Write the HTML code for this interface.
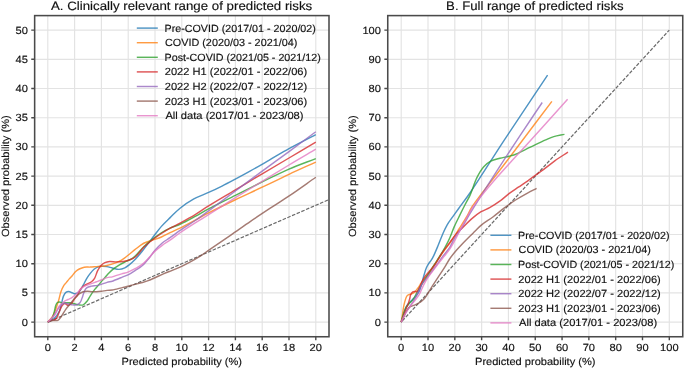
<!DOCTYPE html>
<html><head><meta charset="utf-8"><style>
html,body{margin:0;padding:0;background:#fff;}
body{width:685px;height:369px;overflow:hidden;}
svg{display:block;font-family:"Liberation Sans",sans-serif;text-rendering:geometricPrecision;will-change:transform;}
</style></head><body>
<svg width="685" height="369" viewBox="0 0 685 369">
<rect width="685" height="369" fill="#fff"/>
<clipPath id="c34"><rect x="34.65" y="15.6" width="294.35" height="321.15"/></clipPath>
<path d="M47.80 15.6V336.75M74.60 15.6V336.75M101.40 15.6V336.75M128.20 15.6V336.75M155.00 15.6V336.75M181.80 15.6V336.75M208.60 15.6V336.75M235.40 15.6V336.75M262.20 15.6V336.75M289.00 15.6V336.75M315.80 15.6V336.75M34.65 322.10H329.0M34.65 292.90H329.0M34.65 263.70H329.0M34.65 234.50H329.0M34.65 205.30H329.0M34.65 176.10H329.0M34.65 146.90H329.0M34.65 117.70H329.0M34.65 88.50H329.0M34.65 59.30H329.0M34.65 30.10H329.0" stroke="#e3e3e3" stroke-width="1.15" fill="none"/>
<g clip-path="url(#c34)" fill="none" stroke-width="1.45" stroke-linejoin="round" stroke-linecap="butt">
<path d="M47.80 322.10L1387.80 -261.90" stroke="#6a6a6a" stroke-width="1.2" stroke-dasharray="3.56 1.53" stroke-dashoffset="-1.7"/>
<path d="M47.80 322.10 C49.81 321.03 52.03 320.46 53.83 318.89 C55.94 317.05 58.08 313.79 59.32 311.30 C60.35 309.23 60.57 307.42 61.20 305.16 C61.96 302.45 62.48 298.42 63.48 296.11 C64.17 294.51 64.89 293.08 65.89 292.32 C66.70 291.70 67.71 291.41 68.70 291.44 C69.87 291.48 71.31 292.48 72.46 292.90 C73.42 293.26 74.16 293.91 75.14 293.83 C76.39 293.74 78.07 292.76 79.29 291.62 C80.79 290.20 81.84 287.61 83.04 285.48 C84.30 283.27 85.39 280.70 86.66 278.59 C87.81 276.68 89.00 274.94 90.28 273.34 C91.47 271.84 92.71 270.32 94.03 269.25 C95.18 268.31 96.39 267.57 97.65 267.09 C98.85 266.62 100.02 266.43 101.40 266.33 C103.05 266.21 105.09 266.35 106.89 266.62 C108.71 266.89 110.35 267.53 112.25 267.96 C114.39 268.45 116.92 269.44 119.09 269.36 C121.10 269.30 123.15 268.55 124.85 267.79 C126.37 267.10 127.41 266.29 128.87 265.16 C130.88 263.60 133.43 261.25 135.57 259.03 C137.81 256.70 139.83 254.11 142.00 251.44 C144.34 248.56 146.91 245.18 149.10 242.33 C151.03 239.81 152.54 237.69 154.46 235.20 C156.62 232.41 158.89 229.25 161.43 226.38 C164.10 223.38 167.12 220.57 170.14 217.62 C173.32 214.52 176.34 211.20 180.06 208.22 C184.16 204.92 189.06 201.52 193.86 198.88 C198.58 196.28 203.82 194.64 208.60 192.45 C213.19 190.35 217.55 188.26 222.00 186.03 C226.49 183.78 230.85 181.44 235.40 179.02 C240.17 176.48 244.84 174.00 250.01 171.14 C255.92 167.85 262.51 164.01 268.90 160.33 C275.50 156.53 281.77 152.64 289.00 148.65 C297.25 144.10 306.87 139.31 315.80 134.64" stroke="#1f77b4" stroke-opacity="0.78"/>
<path d="M47.80 322.10 C49.36 320.15 51.14 318.46 52.49 316.26 C53.95 313.87 55.06 310.94 56.11 308.20 C57.15 305.48 57.98 302.67 58.79 299.91 C59.58 297.18 60.04 294.23 60.93 291.73 C61.73 289.50 62.70 287.26 63.75 285.60 C64.57 284.29 65.53 283.49 66.43 282.39 C67.36 281.25 68.27 280.01 69.24 278.88 C70.19 277.77 71.18 276.82 72.19 275.67 C73.31 274.39 74.42 272.67 75.67 271.53 C76.80 270.49 77.94 269.72 79.29 269.01 C80.77 268.25 82.49 267.53 84.25 267.20 C86.13 266.85 88.26 267.18 90.28 267.09 C92.32 266.99 94.50 266.76 96.44 266.62 C98.18 266.49 99.70 266.45 101.40 266.27 C103.22 266.07 105.32 265.80 107.03 265.45 C108.49 265.16 109.49 264.90 111.05 264.40 C113.28 263.69 116.73 262.52 119.09 261.36 C121.11 260.38 122.69 259.32 124.45 258.09 C126.31 256.80 128.17 255.20 129.94 253.77 C131.65 252.40 132.98 251.17 134.90 249.68 C137.40 247.75 140.68 244.88 143.74 243.26 C146.59 241.76 149.64 241.15 152.59 240.11 C155.53 239.07 158.53 238.24 161.43 237.01 C164.39 235.76 167.13 234.08 170.14 232.63 C173.33 231.10 176.43 229.85 180.06 228.08 C184.60 225.85 190.32 222.79 195.20 220.19 C199.82 217.73 203.33 215.62 208.60 212.89 C215.97 209.08 226.45 204.04 235.40 199.75 C244.31 195.48 253.28 191.43 262.20 187.20 C271.14 182.96 280.05 178.54 289.00 174.35 C297.91 170.17 306.87 166.17 315.80 162.08" stroke="#ff7f0e" stroke-opacity="0.78"/>
<path d="M47.80 322.10 C48.69 321.52 49.69 321.09 50.48 320.35 C51.32 319.56 52.02 318.66 52.62 317.43 C53.45 315.76 53.95 313.10 54.50 311.00 C55.02 309.02 55.22 306.69 55.84 305.16 C56.29 304.07 56.75 303.06 57.45 302.54 C58.04 302.09 58.83 301.91 59.59 301.95 C60.50 302.00 61.52 302.97 62.54 303.12 C63.57 303.27 64.60 302.88 65.76 302.83 C67.11 302.77 68.72 302.66 70.18 302.83 C71.63 302.99 73.04 303.48 74.47 303.82 C75.90 304.16 77.30 304.70 78.75 304.87 C80.21 305.05 81.82 305.43 83.18 304.87 C84.76 304.22 86.26 302.15 87.46 300.61 C88.61 299.13 89.18 297.53 90.28 295.82 C91.61 293.75 93.43 291.08 94.97 289.10 C96.28 287.42 97.61 286.06 98.85 284.61 C100.02 283.25 101.08 281.94 102.20 280.64 C103.31 279.35 104.44 278.11 105.55 276.84 C106.67 275.57 107.76 274.23 108.90 273.04 C110.00 271.90 110.89 270.94 112.25 269.83 C114.08 268.35 116.77 266.57 119.09 265.16 C121.33 263.80 123.63 262.66 125.92 261.48 C128.19 260.31 130.93 259.34 132.76 258.09 C134.19 257.11 134.89 256.28 136.24 254.94 C138.31 252.89 141.06 249.36 143.74 246.76 C146.50 244.10 149.59 241.54 152.59 239.17 C155.49 236.88 158.43 234.63 161.43 232.75 C164.29 230.96 167.10 229.47 170.14 228.08 C173.30 226.63 176.45 225.90 180.06 224.28 C184.63 222.22 190.33 219.04 195.20 216.40 C199.83 213.88 203.32 211.62 208.60 208.80 C215.96 204.88 226.47 199.85 235.40 195.37 C244.33 190.89 253.25 186.33 262.20 181.94 C271.11 177.57 279.99 173.01 289.00 169.09 C297.86 165.24 306.87 162.08 315.80 158.58" stroke="#2ca02c" stroke-opacity="0.78"/>
<path d="M47.80 322.10 C48.92 321.52 50.00 320.74 51.15 320.35 C52.24 319.98 53.55 320.20 54.50 319.76 C55.35 319.37 55.99 318.87 56.64 318.01 C57.63 316.70 58.33 314.14 59.19 312.17 C60.07 310.15 60.76 307.57 61.87 306.04 C62.72 304.86 63.78 303.50 64.82 303.41 C65.84 303.32 66.95 305.34 68.03 305.40 C69.09 305.45 70.28 304.67 71.25 303.82 C72.49 302.74 73.37 300.46 74.47 298.97 C75.47 297.62 76.61 296.70 77.55 295.24 C78.66 293.50 79.28 290.79 80.50 289.10 C81.56 287.63 82.93 286.41 84.25 285.48 C85.41 284.66 86.66 284.28 87.87 283.67 C89.07 283.06 90.40 282.65 91.48 281.80 C92.65 280.90 93.65 279.79 94.57 278.30 C95.78 276.33 96.45 272.97 97.65 270.71 C98.72 268.70 99.93 266.74 101.27 265.34 C102.38 264.17 103.53 263.29 104.88 262.65 C106.29 261.99 107.85 261.64 109.57 261.48 C111.63 261.29 114.13 261.89 116.41 261.89 C118.69 261.89 120.99 261.83 123.24 261.48 C125.50 261.13 127.85 260.61 129.94 259.79 C131.95 258.99 133.66 258.23 135.57 256.69 C138.23 254.55 140.86 250.21 143.74 247.35 C146.54 244.58 149.58 242.10 152.59 239.76 C155.48 237.50 158.46 235.46 161.43 233.51 C164.31 231.61 167.11 229.89 170.14 228.19 C173.31 226.42 176.42 225.06 180.06 223.11 C184.59 220.68 190.36 217.58 195.20 214.64 C199.85 211.83 203.33 209.18 208.60 205.88 C215.96 201.27 226.47 195.18 235.40 189.82 C244.33 184.47 253.26 179.07 262.20 173.76 C271.12 168.47 280.07 163.25 289.00 158.00 C297.93 152.74 306.87 147.48 315.80 142.23" stroke="#d62728" stroke-opacity="0.78"/>
<path d="M47.80 322.10 C48.92 321.13 50.07 320.39 51.15 319.18 C52.49 317.68 53.72 315.52 55.04 313.57 C56.44 311.50 57.75 308.88 59.32 307.09 C60.69 305.54 62.17 303.77 63.75 303.30 C65.10 302.89 66.61 303.56 68.03 303.82 C69.47 304.08 70.87 304.70 72.32 304.87 C73.77 305.05 75.44 305.25 76.74 304.87 C77.96 304.52 79.06 303.89 79.96 302.83 C81.17 301.39 81.89 298.40 82.64 296.40 C83.28 294.70 83.55 293.07 84.25 291.62 C84.91 290.25 85.52 288.78 86.66 287.88 C87.88 286.90 89.84 286.51 91.48 286.13 C93.10 285.75 94.81 285.88 96.44 285.60 C98.07 285.32 99.60 284.93 101.27 284.43 C103.12 283.88 105.14 282.93 107.03 282.39 C108.80 281.88 110.80 281.70 112.25 281.22 C113.36 280.86 113.93 280.47 115.07 279.99 C116.82 279.26 119.52 278.20 121.77 277.31 C124.03 276.41 126.38 275.73 128.60 274.62 C130.90 273.47 133.07 271.92 135.30 270.47 C137.59 268.99 139.97 267.68 142.14 265.80 C144.51 263.74 146.71 261.01 148.84 258.44 C151.00 255.84 152.77 252.85 155.00 250.27 C157.24 247.69 159.67 245.09 162.24 242.97 C164.69 240.94 167.27 239.63 170.01 237.71 C173.16 235.50 176.33 232.98 180.06 230.41 C184.56 227.31 190.34 223.82 195.20 220.48 C199.84 217.30 203.38 214.66 208.60 210.85 C216.02 205.43 226.47 197.61 235.40 190.99 C244.33 184.37 253.26 177.71 262.20 171.14 C271.12 164.57 280.08 158.13 289.00 151.57 C297.94 144.99 306.87 138.33 315.80 131.72" stroke="#9467bd" stroke-opacity="0.78"/>
<path d="M47.80 322.10 C49.59 321.61 51.42 320.93 53.16 320.64 C54.76 320.37 56.50 321.01 57.85 320.35 C59.30 319.64 60.28 317.86 61.47 316.26 C62.92 314.30 64.25 311.45 65.76 309.31 C67.16 307.33 68.72 305.65 70.18 303.82 C71.62 302.01 72.99 300.05 74.47 298.39 C75.85 296.84 77.23 295.26 78.75 294.13 C80.15 293.09 81.67 292.20 83.18 291.73 C84.57 291.30 86.02 291.27 87.46 291.26 C88.93 291.26 90.40 291.65 91.89 291.73 C93.39 291.81 94.90 291.80 96.44 291.73 C98.03 291.66 99.59 291.53 101.27 291.32 C103.11 291.10 105.15 290.61 107.03 290.39 C108.81 290.18 110.79 290.19 112.25 289.98 C113.34 289.83 113.89 289.66 115.07 289.40 C117.06 288.94 120.75 287.97 123.11 287.41 C124.96 286.98 126.43 286.72 128.07 286.30 C129.69 285.88 131.27 285.34 132.89 284.90 C134.53 284.46 136.22 284.08 137.85 283.67 C139.43 283.28 140.96 282.95 142.54 282.50 C144.18 282.04 145.69 281.60 147.50 280.93 C149.76 280.09 152.39 278.87 155.00 277.72 C157.87 276.45 160.98 274.89 163.98 273.63 C166.92 272.39 169.89 271.39 172.82 270.18 C175.78 268.96 178.75 267.70 181.67 266.33 C184.60 264.95 187.48 263.52 190.38 261.95 C193.37 260.32 196.28 258.65 199.35 256.69 C202.78 254.51 205.81 252.23 209.94 249.39 C215.73 245.41 223.99 239.82 230.84 235.08 C237.52 230.48 243.95 225.85 250.54 221.36 C257.09 216.90 263.66 212.56 270.24 208.22 C276.79 203.90 282.97 200.08 289.94 195.37 C298.01 189.91 307.18 183.30 315.80 177.27" stroke="#8c564b" stroke-opacity="0.78"/>
<path d="M47.80 322.10 C49.14 320.74 50.56 319.31 51.82 318.01 C52.95 316.85 54.00 316.16 55.04 314.68 C56.54 312.55 57.66 308.26 59.32 305.98 C60.65 304.17 62.20 302.83 63.75 301.72 C65.12 300.73 66.60 300.24 68.03 299.50 C69.46 298.76 70.92 298.21 72.32 297.28 C73.88 296.25 75.38 294.93 76.88 293.48 C78.56 291.86 80.07 289.34 81.84 287.94 C83.36 286.73 85.02 286.03 86.66 285.31 C88.24 284.62 89.87 284.25 91.48 283.67 C93.13 283.08 94.80 282.42 96.44 281.80 C98.06 281.20 99.59 280.66 101.27 279.99 C103.11 279.27 105.12 278.12 107.03 277.60 C108.78 277.12 110.79 277.19 112.25 276.84 C113.35 276.58 113.93 276.26 115.07 275.91 C116.82 275.35 119.52 274.59 121.77 273.92 C124.04 273.25 126.37 272.76 128.60 271.88 C130.89 270.96 133.08 269.71 135.30 268.49 C137.59 267.23 139.96 266.07 142.14 264.40 C144.49 262.59 146.68 260.08 148.84 257.86 C150.96 255.66 152.78 253.23 155.00 251.14 C157.24 249.04 159.74 247.14 162.24 245.30 C164.74 243.46 167.27 242.02 170.01 240.11 C173.17 237.90 176.33 235.33 180.06 232.75 C184.55 229.63 190.28 225.93 195.20 222.82 C199.78 219.92 203.38 217.88 208.60 214.64 C216.02 210.04 226.44 203.27 235.40 197.71 C244.31 192.17 253.27 186.81 262.20 181.36 C271.13 175.91 280.05 170.37 289.00 165.00 C297.91 159.66 306.87 154.49 315.80 149.24" stroke="#e377c2" stroke-opacity="0.78"/>
</g>
<rect x="34.65" y="15.6" width="294.35" height="321.15" fill="none" stroke="#4a4a4a" stroke-width="1.55"/>
<path d="M47.80 336.75v3.4M74.60 336.75v3.4M101.40 336.75v3.4M128.20 336.75v3.4M155.00 336.75v3.4M181.80 336.75v3.4M208.60 336.75v3.4M235.40 336.75v3.4M262.20 336.75v3.4M289.00 336.75v3.4M315.80 336.75v3.4M34.65 322.10h-3.4M34.65 292.90h-3.4M34.65 263.70h-3.4M34.65 234.50h-3.4M34.65 205.30h-3.4M34.65 176.10h-3.4M34.65 146.90h-3.4M34.65 117.70h-3.4M34.65 88.50h-3.4M34.65 59.30h-3.4M34.65 30.10h-3.4" stroke="#4a4a4a" stroke-width="1.4" fill="none"/>
<g fill="#111" stroke="#111" stroke-width="0.15">
<text x="47.80" y="351.40" font-size="10.4" text-anchor="middle" textLength="6.18" lengthAdjust="spacingAndGlyphs">0</text>
<text x="74.60" y="351.40" font-size="10.4" text-anchor="middle" textLength="6.18" lengthAdjust="spacingAndGlyphs">2</text>
<text x="101.40" y="351.40" font-size="10.4" text-anchor="middle" textLength="6.18" lengthAdjust="spacingAndGlyphs">4</text>
<text x="128.20" y="351.40" font-size="10.4" text-anchor="middle" textLength="6.18" lengthAdjust="spacingAndGlyphs">6</text>
<text x="155.00" y="351.40" font-size="10.4" text-anchor="middle" textLength="6.18" lengthAdjust="spacingAndGlyphs">8</text>
<text x="181.80" y="351.40" font-size="10.4" text-anchor="middle" textLength="12.37" lengthAdjust="spacingAndGlyphs">10</text>
<text x="208.60" y="351.40" font-size="10.4" text-anchor="middle" textLength="12.37" lengthAdjust="spacingAndGlyphs">12</text>
<text x="235.40" y="351.40" font-size="10.4" text-anchor="middle" textLength="12.37" lengthAdjust="spacingAndGlyphs">14</text>
<text x="262.20" y="351.40" font-size="10.4" text-anchor="middle" textLength="12.37" lengthAdjust="spacingAndGlyphs">16</text>
<text x="289.00" y="351.40" font-size="10.4" text-anchor="middle" textLength="12.37" lengthAdjust="spacingAndGlyphs">18</text>
<text x="315.80" y="351.40" font-size="10.4" text-anchor="middle" textLength="12.37" lengthAdjust="spacingAndGlyphs">20</text>
<text x="27.85" y="325.65" font-size="10.4" text-anchor="end" textLength="6.18" lengthAdjust="spacingAndGlyphs">0</text>
<text x="27.85" y="296.45" font-size="10.4" text-anchor="end" textLength="6.18" lengthAdjust="spacingAndGlyphs">5</text>
<text x="27.85" y="267.25" font-size="10.4" text-anchor="end" textLength="12.37" lengthAdjust="spacingAndGlyphs">10</text>
<text x="27.85" y="238.05" font-size="10.4" text-anchor="end" textLength="12.37" lengthAdjust="spacingAndGlyphs">15</text>
<text x="27.85" y="208.85" font-size="10.4" text-anchor="end" textLength="12.37" lengthAdjust="spacingAndGlyphs">20</text>
<text x="27.85" y="179.65" font-size="10.4" text-anchor="end" textLength="12.37" lengthAdjust="spacingAndGlyphs">25</text>
<text x="27.85" y="150.45" font-size="10.4" text-anchor="end" textLength="12.37" lengthAdjust="spacingAndGlyphs">30</text>
<text x="27.85" y="121.25" font-size="10.4" text-anchor="end" textLength="12.37" lengthAdjust="spacingAndGlyphs">35</text>
<text x="27.85" y="92.05" font-size="10.4" text-anchor="end" textLength="12.37" lengthAdjust="spacingAndGlyphs">40</text>
<text x="27.85" y="62.85" font-size="10.4" text-anchor="end" textLength="12.37" lengthAdjust="spacingAndGlyphs">45</text>
<text x="27.85" y="33.65" font-size="10.4" text-anchor="end" textLength="12.37" lengthAdjust="spacingAndGlyphs">50</text>
<text x="181.82" y="364.80" font-size="10.4" text-anchor="middle" textLength="120.49" lengthAdjust="spacingAndGlyphs">Predicted probability (%)</text>
<g transform="translate(8.65 176.18) rotate(-90)"><text x="0.00" y="0.00" font-size="10.4" text-anchor="middle" textLength="121.62" lengthAdjust="spacingAndGlyphs">Observed probability (%)</text></g>
<text x="50.98" y="10.10" font-size="12.2" text-anchor="start" textLength="261.20" lengthAdjust="spacingAndGlyphs">A. Clinically relevant range of predicted risks</text>
<path d="M136.80 28.10h21" stroke="#1f77b4" stroke-opacity="0.78" stroke-width="1.45" fill="none"/>
<text x="164.53" y="31.60" font-size="10.4" text-anchor="start" textLength="151.35" lengthAdjust="spacingAndGlyphs">Pre-COVID (2017/01 - 2020/02)</text>
<path d="M136.80 42.70h21" stroke="#ff7f0e" stroke-opacity="0.78" stroke-width="1.45" fill="none"/>
<text x="164.97" y="46.20" font-size="10.4" text-anchor="start" textLength="132.39" lengthAdjust="spacingAndGlyphs">COVID (2020/03 - 2021/04)</text>
<path d="M136.80 57.30h21" stroke="#2ca02c" stroke-opacity="0.78" stroke-width="1.45" fill="none"/>
<text x="164.53" y="60.80" font-size="10.4" text-anchor="start" textLength="156.23" lengthAdjust="spacingAndGlyphs">Post-COVID (2021/05 - 2021/12)</text>
<path d="M136.80 71.90h21" stroke="#d62728" stroke-opacity="0.78" stroke-width="1.45" fill="none"/>
<text x="164.77" y="75.40" font-size="10.4" text-anchor="start" textLength="142.44" lengthAdjust="spacingAndGlyphs">2022 H1 (2022/01 - 2022/06)</text>
<path d="M136.80 86.50h21" stroke="#9467bd" stroke-opacity="0.78" stroke-width="1.45" fill="none"/>
<text x="164.77" y="90.00" font-size="10.4" text-anchor="start" textLength="142.44" lengthAdjust="spacingAndGlyphs">2022 H2 (2022/07 - 2022/12)</text>
<path d="M136.80 101.10h21" stroke="#8c564b" stroke-opacity="0.78" stroke-width="1.45" fill="none"/>
<text x="164.77" y="104.60" font-size="10.4" text-anchor="start" textLength="142.44" lengthAdjust="spacingAndGlyphs">2023 H1 (2023/01 - 2023/06)</text>
<path d="M136.80 115.70h21" stroke="#e377c2" stroke-opacity="0.78" stroke-width="1.45" fill="none"/>
<text x="165.40" y="119.20" font-size="10.4" text-anchor="start" textLength="138.15" lengthAdjust="spacingAndGlyphs">All data (2017/01 - 2023/08)</text>
</g>
<clipPath id="c387"><rect x="387.75" y="15.6" width="295.0" height="321.15"/></clipPath>
<path d="M401.20 15.6V336.75M428.01 15.6V336.75M454.82 15.6V336.75M481.63 15.6V336.75M508.44 15.6V336.75M535.25 15.6V336.75M562.06 15.6V336.75M588.87 15.6V336.75M615.68 15.6V336.75M642.49 15.6V336.75M669.30 15.6V336.75M387.75 322.10H682.75M387.75 292.90H682.75M387.75 263.70H682.75M387.75 234.50H682.75M387.75 205.30H682.75M387.75 176.10H682.75M387.75 146.90H682.75M387.75 117.70H682.75M387.75 88.50H682.75M387.75 59.30H682.75M387.75 30.10H682.75" stroke="#e3e3e3" stroke-width="1.15" fill="none"/>
<g clip-path="url(#c387)" fill="none" stroke-width="1.45" stroke-linejoin="round" stroke-linecap="butt">
<path d="M401.20 322.10L669.30 30.10" stroke="#6a6a6a" stroke-width="1.2" stroke-dasharray="3.56 1.53" stroke-dashoffset="-1.7"/>
<path d="M401.20 322.10 C401.83 319.96 402.47 317.71 403.08 315.68 C403.63 313.83 404.03 312.15 404.69 310.42 C405.36 308.65 406.14 306.60 407.10 305.16 C407.89 303.97 408.83 303.23 409.78 302.24 C410.79 301.19 411.92 300.10 413.00 299.03 C414.07 297.96 415.19 297.09 416.21 295.82 C417.41 294.34 418.68 292.55 419.59 290.56 C420.62 288.33 421.10 285.57 421.84 282.97 C422.63 280.23 423.40 277.15 424.20 274.50 C424.92 272.13 425.55 269.75 426.40 267.79 C427.12 266.13 427.96 264.73 428.81 263.41 C429.58 262.22 430.47 261.36 431.23 260.20 C432.04 258.94 432.66 257.82 433.51 256.11 C434.85 253.39 436.67 248.96 438.20 245.30 C439.76 241.57 441.17 237.50 442.76 233.92 C444.22 230.62 445.57 227.55 447.31 224.57 C449.05 221.61 451.26 218.87 453.21 216.10 C455.10 213.42 456.63 211.28 458.84 208.22 C461.94 203.92 465.44 199.52 470.10 192.74 C478.56 180.45 492.27 158.37 504.42 139.89 C517.93 119.35 533.19 96.68 547.58 75.07" stroke="#1f77b4" stroke-opacity="0.78"/>
<path d="M401.20 322.10 C401.63 319.57 402.06 317.15 402.49 314.51 C402.95 311.62 403.33 308.13 403.88 305.46 C404.33 303.28 404.85 301.30 405.41 299.62 C405.85 298.28 406.17 296.97 406.83 296.11 C407.36 295.42 408.03 295.01 408.79 294.65 C409.62 294.26 410.73 294.33 411.66 293.92 C412.67 293.48 413.68 292.84 414.61 292.02 C415.66 291.09 416.70 289.62 417.55 288.52 C418.27 287.60 418.84 286.78 419.43 285.89 C420.00 285.03 420.42 284.17 421.04 283.26 C421.74 282.23 422.46 281.33 423.45 280.05 C424.97 278.10 427.57 275.21 429.35 272.75 C431.03 270.44 432.42 268.06 433.91 265.74 C435.36 263.48 436.57 261.43 438.20 259.03 C440.15 256.15 442.63 252.79 444.90 249.68 C447.19 246.56 449.61 243.64 451.87 240.34 C454.27 236.85 456.44 233.08 458.84 229.24 C461.43 225.12 464.53 220.44 466.88 216.40 C468.92 212.91 469.46 210.79 472.25 206.47 C478.35 197.01 493.09 179.19 504.95 163.54 C519.21 144.74 536.23 122.08 551.87 101.35" stroke="#ff7f0e" stroke-opacity="0.78"/>
<path d="M401.20 322.10 C401.87 319.67 402.40 317.24 403.21 314.80 C404.05 312.27 404.93 309.31 406.19 307.21 C407.24 305.44 408.71 304.12 409.91 302.83 C410.94 301.73 411.97 301.10 412.89 299.91 C414.00 298.47 414.85 296.52 415.89 294.65 C417.07 292.55 418.32 290.11 419.59 287.94 C420.82 285.83 422.07 283.91 423.40 281.80 C424.83 279.54 426.56 276.94 427.90 274.80 C429.03 273.00 429.76 271.72 430.96 269.83 C432.59 267.26 435.16 263.44 436.86 260.78 C438.18 258.71 439.11 257.23 440.34 255.23 C441.77 252.91 443.41 250.35 444.90 247.64 C446.54 244.65 448.21 241.38 449.73 238.00 C451.35 234.40 452.61 230.41 454.28 226.62 C456.00 222.72 458.07 218.69 459.91 214.94 C461.64 211.41 463.29 208.06 465.01 204.72 C466.69 201.45 468.40 198.81 470.10 195.08 C472.32 190.22 474.28 182.86 476.80 177.85 C478.93 173.63 481.18 169.66 483.77 166.76 C485.91 164.36 488.12 162.61 490.75 161.21 C493.46 159.75 496.80 159.12 499.86 158.29 C502.88 157.47 506.24 156.94 508.98 156.24 C511.24 155.67 512.87 155.36 515.14 154.49 C518.16 153.34 521.93 151.18 525.33 149.53 C528.73 147.87 532.11 146.17 535.52 144.56 C538.90 142.96 542.49 141.27 545.71 139.89 C548.53 138.68 550.84 137.57 553.75 136.68 C557.03 135.68 560.90 135.12 564.47 134.34" stroke="#2ca02c" stroke-opacity="0.78"/>
<path d="M401.20 322.10 C401.78 320.45 402.35 318.76 402.94 317.14 C403.52 315.55 404.06 314.10 404.69 312.46 C405.39 310.62 406.33 308.28 406.99 306.62 C407.49 305.39 407.88 304.61 408.30 303.41 C408.82 301.95 409.36 300.00 409.78 298.45 C410.14 297.10 410.17 295.77 410.69 294.65 C411.18 293.60 411.96 292.39 412.73 291.88 C413.30 291.50 413.94 291.50 414.61 291.44 C415.35 291.38 416.30 291.94 417.02 291.59 C417.98 291.10 418.67 289.37 419.43 287.94 C420.39 286.13 421.15 283.49 422.11 281.51 C422.98 279.72 423.77 278.17 424.90 276.55 C426.14 274.76 427.85 273.04 429.35 271.29 C430.86 269.54 432.48 267.95 433.91 266.04 C435.44 263.99 436.75 261.61 438.20 259.32 C439.70 256.94 441.02 254.57 442.76 252.02 C444.78 249.06 447.43 245.77 449.73 242.68 C451.98 239.64 454.22 236.16 456.43 233.62 C458.23 231.55 459.69 230.40 461.79 228.37 C464.74 225.51 469.05 221.07 472.51 218.15 C475.46 215.66 478.14 213.51 481.09 211.72 C483.87 210.04 486.73 209.28 489.67 207.64 C493.04 205.76 496.86 203.31 500.13 200.92 C503.27 198.63 505.93 195.91 508.98 193.62 C512.01 191.34 515.25 189.31 518.36 187.20 C521.42 185.12 524.46 183.19 527.48 181.06 C530.54 178.91 533.52 176.58 536.59 174.35 C539.69 172.10 542.89 169.92 545.97 167.63 C549.05 165.35 551.74 163.01 555.09 160.62 C558.96 157.87 563.67 154.98 567.96 152.16" stroke="#d62728" stroke-opacity="0.78"/>
<path d="M401.20 322.10 C402.09 320.15 402.92 318.19 403.88 316.26 C404.85 314.30 405.71 312.49 406.99 310.42 C408.58 307.84 411.14 304.90 412.89 302.10 C414.55 299.44 415.85 296.89 417.29 294.07 C418.84 291.02 420.03 287.39 421.84 284.43 C423.59 281.57 426.05 278.98 427.90 276.55 C429.49 274.46 430.82 272.68 432.30 270.71 C433.81 268.69 435.25 266.77 436.86 264.58 C438.71 262.05 440.68 259.18 442.76 256.40 C444.96 253.44 447.76 250.43 449.73 247.35 C451.55 244.48 452.49 241.54 454.28 238.59 C456.27 235.32 458.87 232.38 461.25 228.66 C464.12 224.19 466.21 219.89 470.10 213.48 C477.05 202.03 490.85 180.38 499.99 166.17 C507.57 154.40 513.98 144.69 521.04 134.05 C528.06 123.47 535.16 113.03 542.22 102.52" stroke="#9467bd" stroke-opacity="0.78"/>
<path d="M401.20 322.10 C402.13 320.15 403.22 317.97 403.99 316.26 C404.58 314.95 404.94 313.79 405.49 312.76 C405.96 311.88 406.38 311.26 406.99 310.42 C407.78 309.35 408.70 307.79 409.91 306.92 C411.16 306.02 412.81 305.88 414.39 305.16 C416.27 304.32 418.67 303.26 420.40 302.10 C421.90 301.09 423.06 300.07 424.26 298.74 C425.59 297.25 426.66 295.40 427.90 293.48 C429.33 291.27 430.70 288.73 432.30 286.18 C434.10 283.31 436.17 280.24 438.20 277.13 C440.36 273.83 442.88 270.15 444.90 266.91 C446.68 264.06 447.88 261.42 449.73 258.74 C451.69 255.87 454.12 252.97 456.43 250.27 C458.68 247.63 461.05 245.13 463.40 242.68 C465.70 240.27 468.28 237.72 470.37 235.67 C472.04 234.03 473.26 232.89 474.93 231.29 C476.95 229.35 479.01 227.01 481.63 224.86 C484.82 222.25 489.15 219.75 492.89 216.98 C496.75 214.12 500.54 210.82 504.42 207.93 C508.23 205.08 512.05 202.26 515.95 199.75 C519.74 197.31 523.83 195.03 527.48 193.04 C530.67 191.29 533.55 189.92 536.59 188.36" stroke="#8c564b" stroke-opacity="0.78"/>
<path d="M401.20 322.10 C402.09 320.25 402.92 318.39 403.88 316.55 C404.85 314.69 405.72 312.99 406.99 311.00 C408.59 308.50 410.88 305.48 412.89 302.83 C414.85 300.23 417.17 298.05 418.89 295.24 C420.73 292.25 421.86 288.36 423.45 285.31 C424.88 282.57 426.37 280.08 427.90 277.72 C429.32 275.53 430.81 273.62 432.30 271.58 C433.80 269.53 435.22 267.57 436.86 265.45 C438.67 263.11 440.72 260.73 442.76 258.15 C445.00 255.31 447.53 252.39 449.73 249.10 C452.11 245.53 454.36 241.24 456.43 237.42 C458.36 233.85 459.98 230.35 461.79 226.91 C463.56 223.54 465.34 220.23 467.15 216.98 C468.92 213.81 470.29 210.99 472.51 207.64 C475.37 203.35 479.59 198.18 483.24 193.62 C486.83 189.13 489.42 186.00 494.23 180.48 C502.82 170.61 518.73 153.42 530.96 139.89 C543.19 126.37 555.39 112.83 567.61 99.30" stroke="#e377c2" stroke-opacity="0.78"/>
</g>
<rect x="387.75" y="15.6" width="295.00" height="321.15" fill="none" stroke="#4a4a4a" stroke-width="1.55"/>
<path d="M401.20 336.75v3.4M428.01 336.75v3.4M454.82 336.75v3.4M481.63 336.75v3.4M508.44 336.75v3.4M535.25 336.75v3.4M562.06 336.75v3.4M588.87 336.75v3.4M615.68 336.75v3.4M642.49 336.75v3.4M669.30 336.75v3.4M387.75 322.10h-3.4M387.75 292.90h-3.4M387.75 263.70h-3.4M387.75 234.50h-3.4M387.75 205.30h-3.4M387.75 176.10h-3.4M387.75 146.90h-3.4M387.75 117.70h-3.4M387.75 88.50h-3.4M387.75 59.30h-3.4M387.75 30.10h-3.4" stroke="#4a4a4a" stroke-width="1.4" fill="none"/>
<g fill="#111" stroke="#111" stroke-width="0.15">
<text x="401.20" y="351.40" font-size="10.4" text-anchor="middle" textLength="6.18" lengthAdjust="spacingAndGlyphs">0</text>
<text x="428.01" y="351.40" font-size="10.4" text-anchor="middle" textLength="12.37" lengthAdjust="spacingAndGlyphs">10</text>
<text x="454.82" y="351.40" font-size="10.4" text-anchor="middle" textLength="12.37" lengthAdjust="spacingAndGlyphs">20</text>
<text x="481.63" y="351.40" font-size="10.4" text-anchor="middle" textLength="12.37" lengthAdjust="spacingAndGlyphs">30</text>
<text x="508.44" y="351.40" font-size="10.4" text-anchor="middle" textLength="12.37" lengthAdjust="spacingAndGlyphs">40</text>
<text x="535.25" y="351.40" font-size="10.4" text-anchor="middle" textLength="12.37" lengthAdjust="spacingAndGlyphs">50</text>
<text x="562.06" y="351.40" font-size="10.4" text-anchor="middle" textLength="12.37" lengthAdjust="spacingAndGlyphs">60</text>
<text x="588.87" y="351.40" font-size="10.4" text-anchor="middle" textLength="12.37" lengthAdjust="spacingAndGlyphs">70</text>
<text x="615.68" y="351.40" font-size="10.4" text-anchor="middle" textLength="12.37" lengthAdjust="spacingAndGlyphs">80</text>
<text x="642.49" y="351.40" font-size="10.4" text-anchor="middle" textLength="12.37" lengthAdjust="spacingAndGlyphs">90</text>
<text x="669.30" y="351.40" font-size="10.4" text-anchor="middle" textLength="18.55" lengthAdjust="spacingAndGlyphs">100</text>
<text x="380.95" y="325.65" font-size="10.4" text-anchor="end" textLength="6.18" lengthAdjust="spacingAndGlyphs">0</text>
<text x="380.95" y="296.45" font-size="10.4" text-anchor="end" textLength="12.37" lengthAdjust="spacingAndGlyphs">10</text>
<text x="380.95" y="267.25" font-size="10.4" text-anchor="end" textLength="12.37" lengthAdjust="spacingAndGlyphs">20</text>
<text x="380.95" y="238.05" font-size="10.4" text-anchor="end" textLength="12.37" lengthAdjust="spacingAndGlyphs">30</text>
<text x="380.95" y="208.85" font-size="10.4" text-anchor="end" textLength="12.37" lengthAdjust="spacingAndGlyphs">40</text>
<text x="380.95" y="179.65" font-size="10.4" text-anchor="end" textLength="12.37" lengthAdjust="spacingAndGlyphs">50</text>
<text x="380.95" y="150.45" font-size="10.4" text-anchor="end" textLength="12.37" lengthAdjust="spacingAndGlyphs">60</text>
<text x="380.95" y="121.25" font-size="10.4" text-anchor="end" textLength="12.37" lengthAdjust="spacingAndGlyphs">70</text>
<text x="380.95" y="92.05" font-size="10.4" text-anchor="end" textLength="12.37" lengthAdjust="spacingAndGlyphs">80</text>
<text x="380.95" y="62.85" font-size="10.4" text-anchor="end" textLength="12.37" lengthAdjust="spacingAndGlyphs">90</text>
<text x="380.95" y="33.65" font-size="10.4" text-anchor="end" textLength="18.55" lengthAdjust="spacingAndGlyphs">100</text>
<text x="535.25" y="364.80" font-size="10.4" text-anchor="middle" textLength="120.49" lengthAdjust="spacingAndGlyphs">Predicted probability (%)</text>
<g transform="translate(356.40 176.18) rotate(-90)"><text x="0.00" y="0.00" font-size="10.4" text-anchor="middle" textLength="121.62" lengthAdjust="spacingAndGlyphs">Observed probability (%)</text></g>
<text x="446.13" y="10.10" font-size="12.2" text-anchor="start" textLength="177.41" lengthAdjust="spacingAndGlyphs">B. Full range of predicted risks</text>
<path d="M490.40 235.30h21" stroke="#1f77b4" stroke-opacity="0.78" stroke-width="1.45" fill="none"/>
<text x="518.13" y="238.80" font-size="10.4" text-anchor="start" textLength="151.35" lengthAdjust="spacingAndGlyphs">Pre-COVID (2017/01 - 2020/02)</text>
<path d="M490.40 249.90h21" stroke="#ff7f0e" stroke-opacity="0.78" stroke-width="1.45" fill="none"/>
<text x="518.57" y="253.40" font-size="10.4" text-anchor="start" textLength="132.39" lengthAdjust="spacingAndGlyphs">COVID (2020/03 - 2021/04)</text>
<path d="M490.40 264.50h21" stroke="#2ca02c" stroke-opacity="0.78" stroke-width="1.45" fill="none"/>
<text x="518.13" y="268.00" font-size="10.4" text-anchor="start" textLength="156.23" lengthAdjust="spacingAndGlyphs">Post-COVID (2021/05 - 2021/12)</text>
<path d="M490.40 279.10h21" stroke="#d62728" stroke-opacity="0.78" stroke-width="1.45" fill="none"/>
<text x="518.37" y="282.60" font-size="10.4" text-anchor="start" textLength="142.44" lengthAdjust="spacingAndGlyphs">2022 H1 (2022/01 - 2022/06)</text>
<path d="M490.40 293.70h21" stroke="#9467bd" stroke-opacity="0.78" stroke-width="1.45" fill="none"/>
<text x="518.37" y="297.20" font-size="10.4" text-anchor="start" textLength="142.44" lengthAdjust="spacingAndGlyphs">2022 H2 (2022/07 - 2022/12)</text>
<path d="M490.40 308.30h21" stroke="#8c564b" stroke-opacity="0.78" stroke-width="1.45" fill="none"/>
<text x="518.37" y="311.80" font-size="10.4" text-anchor="start" textLength="142.44" lengthAdjust="spacingAndGlyphs">2023 H1 (2023/01 - 2023/06)</text>
<path d="M490.40 322.90h21" stroke="#e377c2" stroke-opacity="0.78" stroke-width="1.45" fill="none"/>
<text x="519.00" y="326.40" font-size="10.4" text-anchor="start" textLength="138.15" lengthAdjust="spacingAndGlyphs">All data (2017/01 - 2023/08)</text>
</g>
</svg>
</body></html>
